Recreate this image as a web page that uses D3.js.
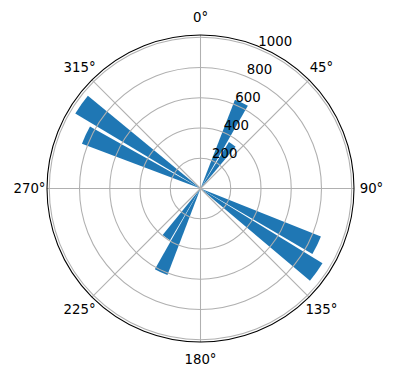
<!DOCTYPE html>
<html>
<head>
<meta charset="utf-8">
<script src="https://cdn.jsdelivr.net/npm/d3@7"></script>
<style>
  body { margin: 0; background: #fff; }
  text { font-family: "DejaVu Sans", sans-serif; font-size: 13.3px; fill: #000; }
</style>
</head>
<body>
<div id="chart"></div>
<script>
// dati
var barAngles = [25.5, 35.8, 116, 125.8, 205.2, 214.8, 295, 305.2]; // gradi, centro barra
var barValues = [630, 360, 857, 946, 613, 397, 838, 965];
var barWidthDeg = 8.6;
var radialTicks = [200, 400, 600, 800, 1000];
var angleTicks = [0, 45, 90, 135, 180, 225, 270, 315];

var width = 396, height = 380;
var cx = 200.5, cy = 188.5, R = 153.5;
var rMax = 1015;

var svg = d3.select("#chart").append("svg")
  .attr("width", width)
  .attr("height", height);

var g = svg.append("g").attr("transform", "translate(" + cx + "," + cy + ")");

var r = d3.scaleLinear().domain([0, rMax]).range([0, R]);
var rad = d => d * Math.PI / 180;

// barre
var arc = d3.arc()
  .innerRadius(0)
  .outerRadius(d => r(d.v))
  .startAngle(d => rad(d.a - barWidthDeg / 2))
  .endAngle(d => rad(d.a + barWidthDeg / 2));

g.append("g").selectAll("path")
  .data(barAngles.map((a, i) => ({ a: a, v: barValues[i] })))
  .enter().append("path")
  .attr("d", arc)
  .attr("fill", "#1f77b4");

// griglia (sopra le barre, come matplotlib)
var grid = g.append("g").attr("fill", "none").attr("stroke", "#b0b0b0").attr("stroke-width", 1.07);
grid.selectAll("circle")
  .data(radialTicks)
  .enter().append("circle")
  .attr("r", d => r(d));
grid.selectAll("line")
  .data(angleTicks)
  .enter().append("line")
  .attr("x1", 0).attr("y1", 0)
  .attr("x2", d => R * Math.sin(rad(d)))
  .attr("y2", d => -R * Math.cos(rad(d)));

// bordo esterno
g.append("circle")
  .attr("r", R)
  .attr("fill", "none")
  .attr("stroke", "#000")
  .attr("stroke-width", 1.07);

// etichette radiali a 22.5°
g.append("g").selectAll("text")
  .data(radialTicks)
  .enter().append("text")
  .attr("x", d => r(d) * Math.sin(rad(22.5)))
  .attr("y", d => -r(d) * Math.cos(rad(22.5)) - 3)
  .attr("text-anchor", "start")
  .text(d => d);

// etichette angolari
var labelR = 171;
g.append("g").selectAll("text")
  .data(angleTicks)
  .enter().append("text")
  .attr("x", d => labelR * Math.sin(rad(d)))
  .attr("y", d => -labelR * Math.cos(rad(d)))
  .attr("text-anchor", "middle")
  .attr("dominant-baseline", "central")
  .text(d => d + "°");
</script>
</body>
</html>
